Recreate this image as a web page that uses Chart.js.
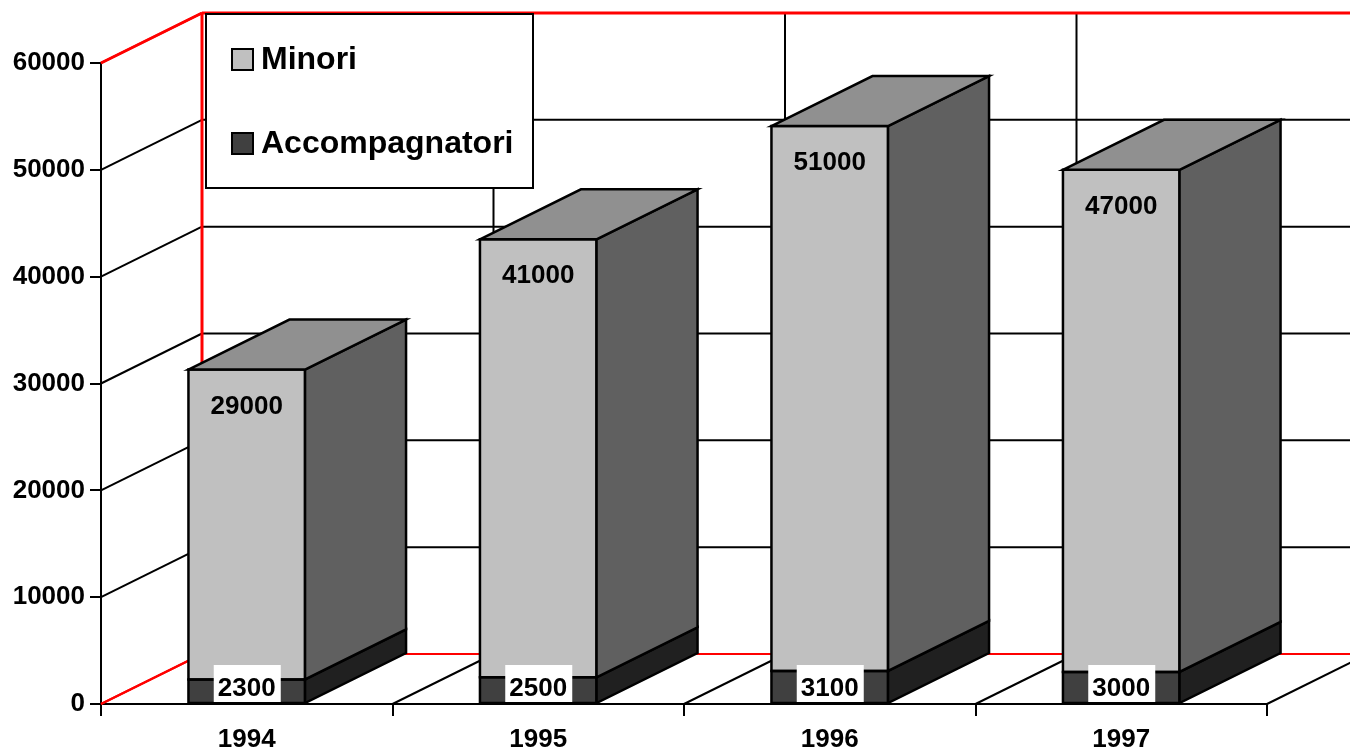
<!DOCTYPE html>
<html>
<head>
<meta charset="utf-8">
<script src="https://cdn.jsdelivr.net/npm/chart.js@4/dist/chart.umd.min.js"></script>
<style>
  html, body { margin: 0; padding: 0; background: #fff; }
  #wrap { width: 1350px; height: 750px; }
</style>
</head>
<body>
<div id="wrap"><canvas id="bars3d" width="1350" height="750"></canvas></div>
<script>
// values
var years = ["1994", "1995", "1996", "1997"];
var minori = [29000, 41000, 51000, 47000];
var accompagnatori = [2300, 2500, 3100, 3000];
var yTicks = [0, 10000, 20000, 30000, 40000, 50000, 60000];

var FONT = "'Liberation Sans', Arial, sans-serif";
var DX = 101, DY = -50; // depth of the fake 3d
var RED = "#ff0000";

function line(ctx, x1, y1, x2, y2, color, w) {
  ctx.beginPath();
  ctx.moveTo(x1, y1);
  ctx.lineTo(x2, y2);
  ctx.strokeStyle = color;
  ctx.lineWidth = w;
  ctx.stroke();
}

function poly(ctx, pts, fill) {
  ctx.beginPath();
  ctx.moveTo(pts[0][0], pts[0][1]);
  for (var i = 1; i < pts.length; i++) ctx.lineTo(pts[i][0], pts[i][1]);
  ctx.closePath();
  if (fill) {
    ctx.fillStyle = fill;
    ctx.fill();
  }
  ctx.strokeStyle = "#000";
  ctx.lineWidth = 2.5;
  ctx.lineJoin = "miter";
  ctx.stroke();
}

var walls = {
  id: "walls",
  beforeDatasetsDraw: function (chart) {
    var ctx = chart.ctx;
    var a = chart.chartArea;
    var ys = chart.scales.y;
    var W = chart.width;
    ctx.save();
    // back wall horizontals + left wall diagonals
    yTicks.forEach(function (v, i) {
      var py = ys.getPixelForValue(v);
      var edge = (i === 0 || i === yTicks.length - 1);
      var c = edge ? RED : "#000";
      line(ctx, a.left + DX, py + DY, W, py + DY, c, 2);
      line(ctx, a.left, py, a.left + DX, py + DY, c, 2);
    });
    // back wall verticals + floor diagonals at category edges
    var step = (a.right - a.left) / years.length;
    for (var k = 0; k <= years.length; k++) {
      var px = a.left + k * step;
      var c = k === 0 ? RED : "#000";
      if (k > 0 && k < years.length) {
        line(ctx, px + DX, a.top + DY, px + DX, a.bottom + DY, "#000", 2);
      }
      line(ctx, px, a.bottom, px + DX, a.bottom + DY, c, 2);
    }
    line(ctx, a.left + DX, a.top + DY, a.left + DX, a.bottom + DY, RED, 3);
    line(ctx, a.left, a.top, a.left + DX, a.top + DY, RED, 3);
    line(ctx, a.left + DX, a.top + DY, W, a.top + DY, RED, 3);

    // legend box
    ctx.fillStyle = "#fff";
    ctx.fillRect(206, 14, 327, 174);
    ctx.strokeStyle = "#000";
    ctx.lineWidth = 2;
    ctx.strokeRect(206, 14, 327, 174);
    var ds = chart.data.datasets.slice().reverse();
    ds.forEach(function (d, i) {
      var cy = 59 + i * 84;
      ctx.fillStyle = d.backgroundColor;
      ctx.fillRect(232, cy - 10, 21, 21);
      ctx.strokeRect(232, cy - 10, 21, 21);
      ctx.fillStyle = "#000";
      ctx.font = "bold 32px " + FONT;
      ctx.textAlign = "left";
      ctx.textBaseline = "middle";
      ctx.fillText(d.label, 261, cy + 1);
    });
    ctx.restore();
  },
  afterDatasetsDraw: function (chart) {
    var ctx = chart.ctx;
    var sides = ["#202020", "#606060"];
    ctx.save();
    chart.data.datasets.forEach(function (d, di) {
      var meta = chart.getDatasetMeta(di);
      meta.data.forEach(function (bar) {
        var l = bar.x - bar.width / 2, r = bar.x + bar.width / 2;
        // outline of the front face
        poly(ctx, [[l, bar.y], [r, bar.y], [r, bar.base], [l, bar.base]], null);
        poly(ctx, [[r, bar.y], [r + DX, bar.y + DY], [r + DX, bar.base + DY], [r, bar.base]], sides[di]);
        if (di === chart.data.datasets.length - 1) {
          poly(ctx, [[l, bar.y], [l + DX, bar.y + DY], [r + DX, bar.y + DY], [r, bar.y]], "#909090");
        }
      });
    });
    // value labels
    ctx.font = "bold 26px " + FONT;
    ctx.textAlign = "center";
    ctx.textBaseline = "middle";
    chart.getDatasetMeta(1).data.forEach(function (bar, i) {
      ctx.fillStyle = "#000";
      ctx.fillText(String(minori[i]), bar.x, bar.y + 37);
    });
    chart.getDatasetMeta(0).data.forEach(function (bar, i) {
      ctx.fillStyle = "#fff";
      ctx.fillRect(bar.x - 33, bar.base - 38, 67, 37);
      ctx.fillStyle = "#000";
      ctx.fillText(String(accompagnatori[i]), bar.x, bar.base - 14);
    });
    ctx.restore();
  }
};

new Chart(document.getElementById("bars3d"), {
  type: "bar",
  data: {
    labels: years,
    datasets: [
      { label: "Accompagnatori", data: accompagnatori, backgroundColor: "#404040", borderWidth: 0 },
      { label: "Minori", data: minori, backgroundColor: "#c0c0c0", borderWidth: 0 }
    ]
  },
  options: {
    responsive: false,
    animation: false,
    events: [],
    layout: { padding: { top: 63, right: 83, left: 0, bottom: 0 } },
    datasets: { bar: { categoryPercentage: 1, barPercentage: 0.4 } },
    plugins: { legend: { display: false }, tooltip: { enabled: false } },
    scales: {
      x: {
        stacked: true,
        grid: { drawOnChartArea: false, offset: true, color: "#000", lineWidth: 2, tickLength: 12 },
        border: { color: "#000", width: 2 },
        ticks: { color: "#000", font: { family: FONT, size: 26, weight: "bold" }, padding: 8, maxRotation: 0 },
        afterFit: function (s) { s.height = 46; }
      },
      y: {
        stacked: true,
        min: 0,
        max: 60000,
        afterBuildTicks: function (s) { s.ticks = yTicks.map(function (v) { return { value: v }; }); },
        grid: { drawOnChartArea: false, color: "#000", lineWidth: 2, tickLength: 11 },
        border: { color: "#000", width: 2 },
        ticks: {
          color: "#000", font: { family: FONT, size: 26, weight: "bold" }, padding: 5,
          callback: function (v) { return String(v); }
        },
        afterFit: function (s) { s.width = 101; }
      }
    }
  },
  plugins: [walls]
});
</script>
</body>
</html>
